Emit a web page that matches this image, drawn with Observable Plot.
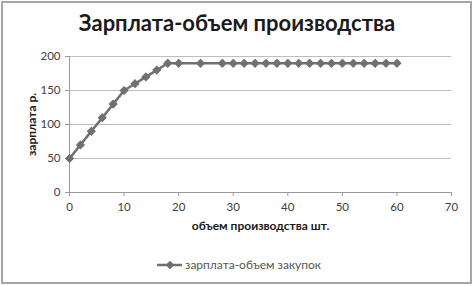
<!DOCTYPE html>
<html><head><meta charset="utf-8">
<script src="https://cdn.jsdelivr.net/npm/d3@7"></script>
<script src="https://cdn.jsdelivr.net/npm/@observablehq/plot@0.6"></script>
<style>
body{margin:0;background:#fff;}
#wrap{position:relative;width:474px;height:286px;overflow:hidden;background:#fff;font-family:Lato,"Open Sans",sans-serif;}
#frame{position:absolute;left:1px;top:1px;width:471px;height:283px;border:2px solid #a6a6a6;box-sizing:border-box;}
#title{position:absolute;left:0;top:9px;width:474px;text-align:center;font-size:22px;font-weight:bold;color:#1a1a1a;}
#chart{position:absolute;left:0;top:45px;}
#legend{position:absolute;left:0;top:256px;width:474px;height:20px;}
#chart svg text{fill:#404040;}
#chart g[aria-label="x-axis label"] text,#chart g[aria-label="y-axis label"] text{font-weight:bold;fill:#1a1a1a;font-size:12px;}
</style></head>
<body><div id="wrap"><div id="frame"></div><div id="title"></div><div id="chart"></div><div id="legend"></div></div>
<script>
const title = "Зарплата-объем производства";
const xLabel = "объем производства шт.";
const yLabel = "зарплата р.";
const seriesName = "зарплата-объем закупок";
const volume = [0,2,4,6,8,10,12,14,16,18,20,24,28,30,32,34,36,38,40,42,44,46,48,50,52,54,56,58,60];
const salary = [50,70,90,110,130,150,160,170,180,190,190,190,190,190,190,190,190,190,190,190,190,190,190,190,190,190,190,190,190];
const xTicks = [0,10,20,30,40,50,60,70];
const yTicks = [0,50,100,150,200];
const data = volume.map((v,i)=>({x:v,y:salary[i]}));
const col = "#707070";

document.getElementById("title").textContent = title;

const chart = Plot.plot({
  width:474, height:200,
  marginLeft:69, marginRight:23, marginTop:11, marginBottom:53,
  style:{fontFamily:"Lato, 'Open Sans', sans-serif", fontSize:"11px", background:"transparent", overflow:"visible"},
  x:{domain:[0,70], ticks:xTicks, label:xLabel, labelAnchor:"center", labelArrow:"none", labelOffset:37},
  y:{domain:[0,200], ticks:yTicks, label:yLabel, labelAnchor:"center", labelArrow:"none", labelOffset:42},
  marks:[
    Plot.gridY(yTicks.filter(d=>d>0), {stroke:"#bdbdbd", strokeOpacity:1}),
    Plot.axisX({ticks:xTicks, tickSize:4, tickPadding:6, stroke:"#9a9a9a", label:xLabel, labelAnchor:"center", labelArrow:"none", labelOffset:37, fontSize:11.5}),
    Plot.axisY({ticks:yTicks, tickSize:4, tickPadding:5, stroke:"#9a9a9a", label:yLabel, labelAnchor:"center", labelArrow:"none", labelOffset:42, fontSize:11.5}),
    Plot.ruleX([0], {stroke:"#9a9a9a"}),
    Plot.ruleY([0], {stroke:"#9a9a9a"}),
    Plot.line(data, {x:"x", y:"y", stroke:col, strokeWidth:2.5}),
    Plot.dot(data, {x:"x", y:"y", symbol:"diamond2", r:3.4, fill:col, stroke:col, strokeWidth:1.2})
  ]
});
document.getElementById("chart").appendChild(chart);

// legend
const leg = d3.select("#legend").append("svg").attr("width",474).attr("height",20);
leg.append("line").attr("x1",157).attr("x2",182).attr("y1",9).attr("y2",9).attr("stroke",col).attr("stroke-width",2.5);
leg.append("path").attr("d",d3.symbol(d3.symbolDiamond2, 36)()).attr("transform","translate(170,9)").attr("fill",col).attr("stroke",col);
leg.append("text").attr("x",185).attr("y",13).attr("font-size","12px").attr("font-family","Lato, 'Open Sans', sans-serif").attr("fill","#555").text(seriesName);
</script></body></html>
